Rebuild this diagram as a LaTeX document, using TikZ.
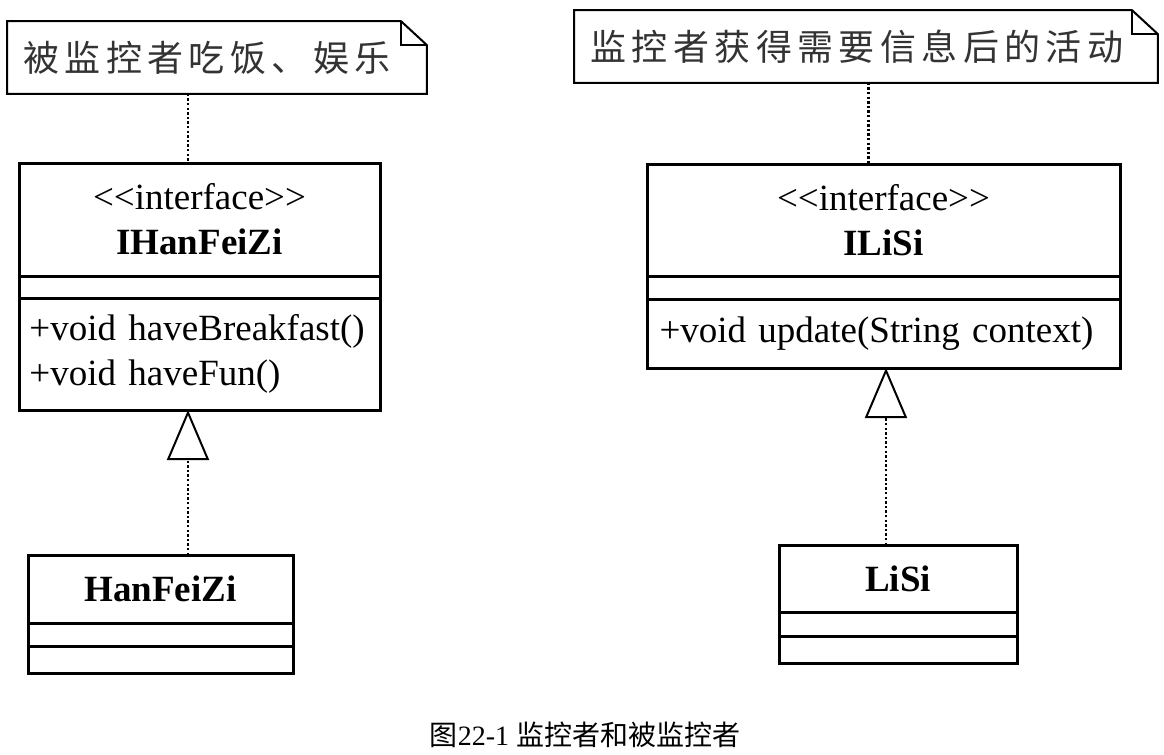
\documentclass[tikz,border=0pt]{standalone}
\usepackage{fontspec}
\setmainfont{Liberation Serif}
\newfontfamily\cjk{Noto Sans CJK SC}
\newfontfamily\notecjk[LetterSpace=15]{Noto Sans CJK SC}
\usepackage{tikz}
\usetikzlibrary{arrows.meta, positioning}

\begin{document}
\begin{tikzpicture}[x=0.5pt, y=-0.5pt,
  umlhead/.style={draw, line width=1.5pt, outer sep=0pt, inner sep=0pt,
    align=center, font=\fontsize{18.5}{22.5}\selectfont},
  umlpart/.style={draw, line width=1.5pt, outer sep=0pt, inner ysep=0pt,
    align=left, font=\fontsize{18.5}{22.5}\selectfont},
  notebox/.style={inner xsep=8pt, inner ysep=0pt, minimum height=36pt,
    align=left, text=black!80, font=\notecjk\fontsize{18}{22}\selectfont},
  noteline/.style={line width=1pt},
  tie/.style={line width=1.3pt, dash pattern=on 1.2pt off 1.1pt},
  realize/.style={tie, -{Triangle[open, length=25pt, width=21pt, line width=1pt]}}]

  \fill[white] (0,0) rectangle (1164,755);
  \useasboundingbox (0,0) rectangle (1164,755);

  % notes
  \node[notebox, anchor=north west, text width=193.5pt] (note1) at (7,21) {被监控者吃饭、娱乐};
  \node[notebox, anchor=north west, text width=275.5pt] (note2) at (574,10) {监控者获得需要信息后的活动};
  \foreach \n in {note1, note2} {
    \draw[noteline] (\n.north west) -- ([xshift=-13pt]\n.north east) -- ([yshift=-12pt]\n.north east)
      -- (\n.south east) -- (\n.south west) -- cycle;
    \draw[noteline] ([xshift=-13pt]\n.north east) -- ([xshift=-13pt, yshift=-12pt]\n.north east)
      -- ([yshift=-12pt]\n.north east);
  }

  % IHanFeiZi
  \node[umlhead, anchor=north west, text width=180.5pt, minimum height=56.5pt] (ihfz) at (19,163)
    {{<}{<}interface{>}{>}\\\textbf{IHanFeiZi}};
  \node[umlpart, below=0pt of ihfz, minimum width=180.5pt, minimum height=11pt] (ihfz-a) {};
  \node[umlpart, below=0pt of ihfz-a, text width=170pt, inner xsep=5.25pt, minimum height=56pt] (ihfz-o)
    {+void haveBreakfast()\\+void haveFun()};

  % HanFeiZi
  \node[umlhead, anchor=north west, text width=132.5pt, minimum height=34pt] (hfz) at (28,555) {\textbf{HanFeiZi}};
  \node[umlpart, below=0pt of hfz, minimum width=132.5pt, minimum height=11.5pt] (hfz-a) {};
  \node[umlpart, below=0pt of hfz-a, minimum width=132.5pt, minimum height=13.5pt] (hfz-o) {};

  % ILiSi
  \node[umlhead, anchor=north west, text width=236.5pt, minimum height=56pt] (ilisi) at (647,164)
    {{<}{<}interface{>}{>}\\\textbf{ILiSi}};
  \node[umlpart, below=0pt of ilisi, minimum width=236.5pt, minimum height=11.5pt] (ilisi-a) {};
  \node[umlpart, below=0pt of ilisi-a, text width=224pt, inner xsep=6.25pt, minimum height=34.5pt] (ilisi-o)
    {+void update(String context)};

  % LiSi
  \node[umlhead, anchor=north west, text width=119pt, minimum height=33.5pt] (lisi) at (779,545) {\textbf{LiSi}};
  \node[umlpart, below=0pt of lisi, minimum width=119pt, minimum height=12pt] (lisi-a) {};
  \node[umlpart, below=0pt of lisi-a, minimum width=119pt, minimum height=13.5pt] (lisi-o) {};

  % connectors
  \coordinate (t1) at ([xshift=-5.75pt]ihfz.north);
  \coordinate (r1) at ([xshift=-5.75pt]ihfz-o.south);
  \coordinate (t2) at ([xshift=-7.5pt]ilisi.north);
  \coordinate (r2) at ([xshift=1.25pt]ilisi-o.south);
  \draw[tie] (note1.south -| t1) -- (t1);
  \draw[tie] (note2.south -| t2) -- (t2);
  \draw[realize] (hfz.north -| r1) -- (r1);
  \draw[realize] (lisi.north -| r2) -- (r2);

  \node[font=\fontsize{14}{16}\selectfont] (cap) at (585,735) {{\cjk 图}22-1 {\cjk 监控者和被监控者}};
\end{tikzpicture}
\end{document}
